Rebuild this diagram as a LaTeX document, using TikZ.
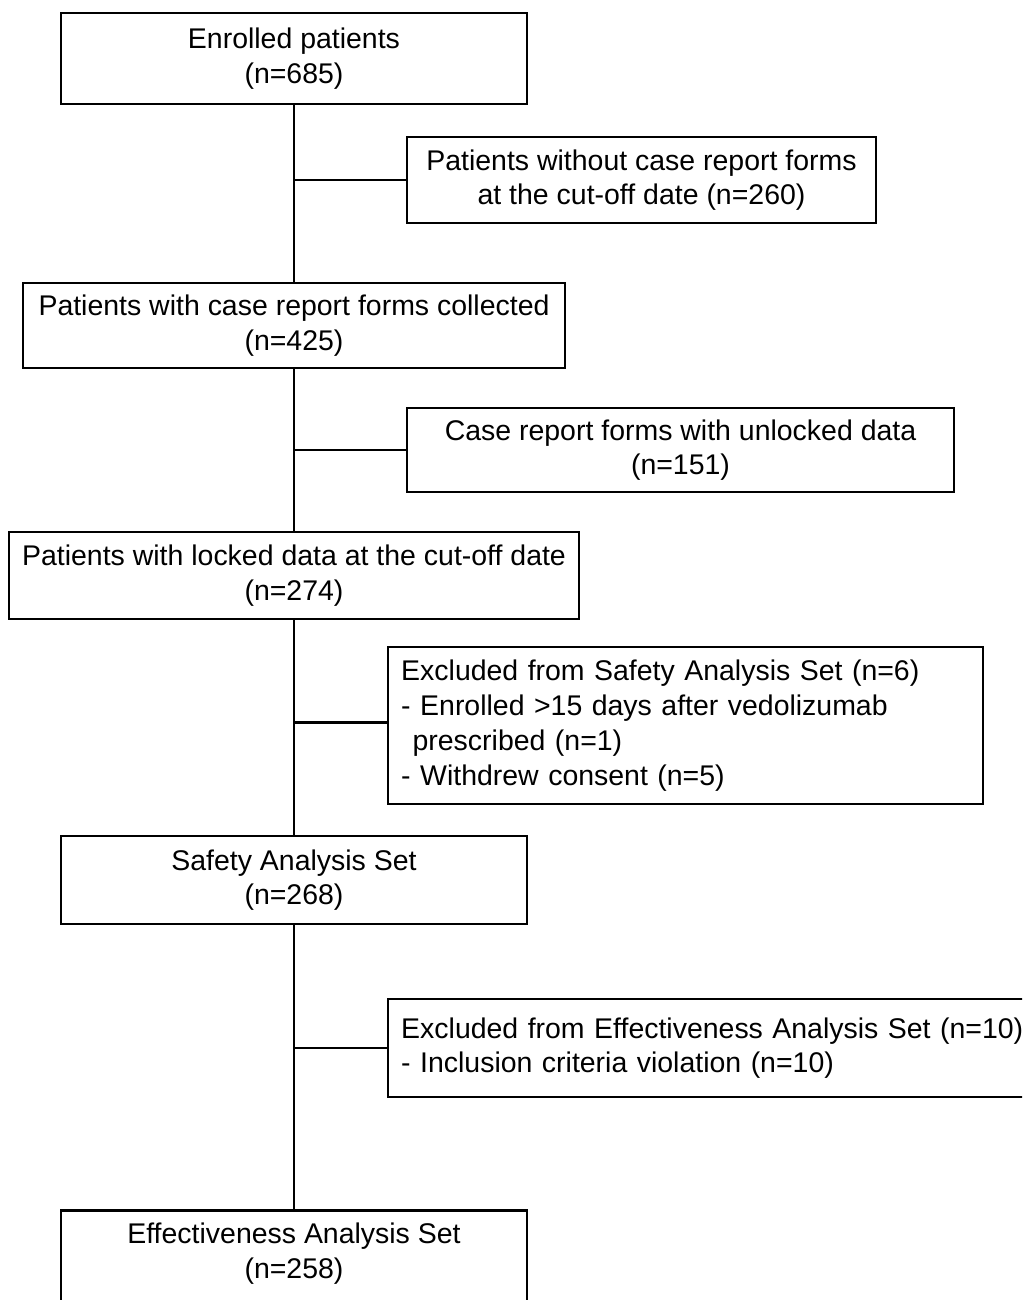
\documentclass[tikz,border=0pt]{standalone}
\usepackage{fontspec}
\setmainfont{Liberation Sans}
\usepackage{tikz}
\usetikzlibrary{positioning,calc}
\tikzset{
  flowbox/.style={rectangle,draw=black,line width=1.4pt,
    inner sep=0pt,align=center,
    font=\fontsize{16.2}{19.6}\selectfont},
  notebox/.style={rectangle,draw=black,line width=1.4pt,
    inner sep=0.26cm,align=left,anchor=north west,
    font=\fontsize{16.2}{19.8}\selectfont},
  link/.style={line width=1.4pt,color=black},
}

\begin{document}
\begin{tikzpicture}[x=0.02cm,y=-0.02cm]

  \clip (0,0) rectangle (1022,1300);
  \fill[white] (0,0) rectangle (1022,1300);

  \node[flowbox,minimum width=9.32cm,minimum height=1.82cm] (enrolled) at (294,58.5)
    {Enrolled patients\\(n=685)};

  \node[flowbox,minimum width=9.38cm,minimum height=1.72cm] (nocrf) at (641.5,180)
    {Patients without case report forms\\at the cut-off date (n=260)};

  \node[flowbox,minimum width=10.84cm,minimum height=1.70cm] (crf) at (294,325.5)
    {Patients with case report forms collected\\(n=425)};

  \node[flowbox,minimum width=10.94cm,minimum height=1.68cm] (unlocked) at (680.5,450)
    {Case report forms with unlocked data\\(n=151)};

  \node[flowbox,minimum width=11.40cm,minimum height=1.74cm] (locked) at (294,575.5)
    {Patients with locked data at the cut-off date\\(n=274)};

  \node[notebox,text width=11.38cm,minimum height=3.12cm] (exsafe) at (387,646)
    {Excluded from Safety Analysis Set (n=6)\\
     - Enrolled >15 days after vedolizumab\\
     \hspace*{0.4em}prescribed (n=1)\\
     - Withdrew consent (n=5)};

  \node[flowbox,minimum width=9.32cm,minimum height=1.76cm] (safety) at (294,880)
    {Safety Analysis Set\\(n=268)};

  \node[notebox,text width=12.68cm,minimum height=1.96cm] (exeff) at (387,998)
    {Excluded from Effectiveness Analysis Set (n=10)\\
     - Inclusion criteria violation (n=10)};

  \node[flowbox,minimum width=9.32cm,minimum height=2.5cm] (effect) at (294,1273)
    {Effectiveness Analysis Set\\(n=258)\\\strut};

  % trunk
  \foreach \from/\to in {enrolled/crf,crf/locked,locked/safety,safety/effect}
    \draw[link] (\from) -- (\to);

  % side branches
  \foreach \side in {nocrf,unlocked,exeff}
    \draw[link] (\side.west) -- (\side.west -| enrolled.south);
  \draw[link] ([yshift=0.06cm]exsafe.west) -- ([yshift=0.06cm]exsafe.west -| enrolled.south);

\end{tikzpicture}
\end{document}
